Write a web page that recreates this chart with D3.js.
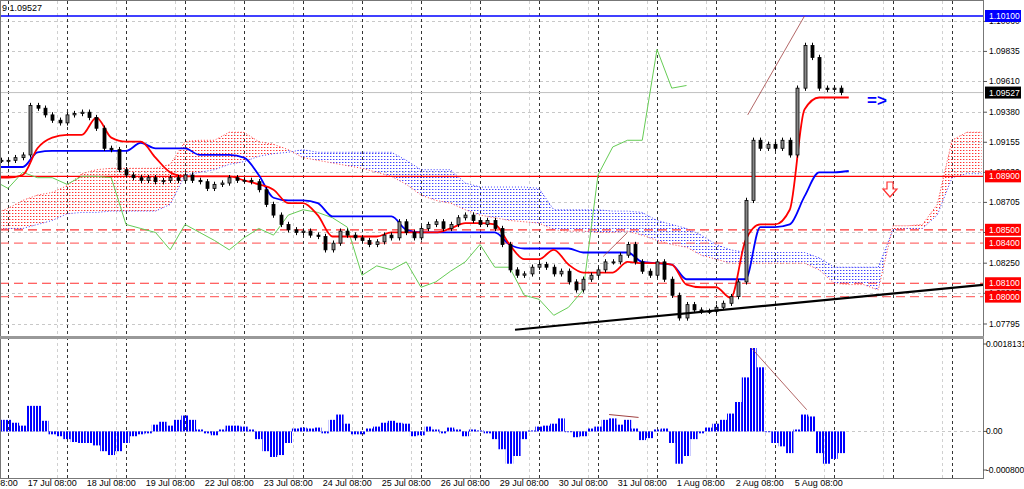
<!DOCTYPE html>
<html>
<head>
<meta charset="utf-8">
<script src="https://cdn.jsdelivr.net/npm/d3@7"></script>
<style>
  body { margin: 0; background: #fff; }
  svg { display: block; font-family: "Liberation Sans", Arial, sans-serif; }
</style>
</head>
<body>
<div id="chart"></div>
<script>
// 3-hour bars, index 0 = 17 Jul 00:00, first bar index -1
var closes = [
  1.0902,1.0902,1.0904,1.0906,1.0943,1.0941,1.0936,1.0932,1.0930,1.0936,
  1.0937,1.0938,1.0934,1.0926,1.0911,1.0910,1.0895,1.0891,1.0889,1.0887,
  1.0889,1.0886,1.0887,1.0889,1.0887,1.0891,1.0887,1.0886,1.0881,1.0884,
  1.0885,1.0889,1.0887,1.0887,1.0886,1.0880,1.0869,1.0861,1.0854,1.0850,
  1.0848,1.0849,1.0846,1.0845,1.0835,1.0840,1.0849,1.0846,1.0844,1.0842,
  1.0839,1.0841,1.0846,1.0844,1.0856,1.0848,1.0844,1.0851,1.0854,1.0856,
  1.0851,1.0854,1.0859,1.0861,1.0857,1.0854,1.0857,1.0851,1.0839,1.0820,
  1.0816,1.0817,1.0822,1.0824,1.0822,1.0817,1.0819,1.0811,1.0805,1.0813,
  1.0816,1.0820,1.0826,1.0826,1.0831,1.0839,1.0826,1.0819,1.0816,1.0826,
  1.0813,1.0801,1.0784,1.0794,1.0790,1.0789,1.0789,1.0792,1.0795,1.0800,
  1.0811,1.0872,1.0917,1.0911,1.0914,1.0911,1.0917,1.0906,1.0956,1.0988,
  1.0979,1.0956,1.0955,1.0956,1.09527
];
// Ichimoku lines, sampled every 2 bars from index -2
var tenkan = [
  1.0889,1.0889,1.0891,1.0911,1.0919,1.0921,1.0921,1.0934,1.0919,1.0916,
  1.0916,1.0904,1.0893,1.0890,1.0890,1.0890,1.0890,1.0887,1.0884,1.0880,
  1.0870,1.0870,1.0861,1.0845,1.0845,1.0845,1.0845,1.0848,1.0848,1.0848,
  1.0848,1.0851,1.0855,1.0855,1.0854,1.0839,1.0828,1.0828,1.0835,1.0824,
  1.0818,1.0818,1.0818,1.0826,1.0825,1.0825,1.0824,1.0809,1.0807,1.0807,
  1.0799,1.0842,1.0854,1.0854,1.0865,1.0940,1.0949,1.0949,1.0949
];
var kijun = [
  1.0897,1.0897,1.0897,1.0908,1.0909,1.0909,1.0909,1.0909,1.0909,1.0909,
  1.0915,1.0911,1.0911,1.0911,1.0906,1.0906,1.0906,1.0904,1.0891,1.0874,
  1.0872,1.0872,1.0870,1.0860,1.0860,1.0860,1.0860,1.0860,1.0850,1.0848,
  1.0848,1.0848,1.0848,1.0848,1.0848,1.0839,1.0836,1.0836,1.0836,1.0836,
  1.0833,1.0833,1.0833,1.0833,1.0826,1.0825,1.0824,1.0813,1.0813,1.0813,
  1.0813,1.0813,1.0852,1.0852,1.0854,1.0875,1.0893,1.0893,1.0894
];
var spanA = [
  1.0862,1.0866,1.0872,1.0876,1.0878,1.0883,1.0892,1.0895,1.0896,1.0896,
  1.0896,1.0896,1.0899,1.0916,1.0917,1.0917,1.0923,1.0923,1.0916,1.0914,
  1.0910,1.0904,1.0902,1.0900,1.0898,1.0896,1.0893,1.0890,1.0884,1.0876,
  1.0872,1.0870,1.0865,1.0861,1.0859,1.0857,1.0856,1.0855,1.0850,1.0849,
  1.0849,1.0848,1.0848,1.0849,1.0846,1.0842,1.0839,1.0837,1.0831,1.0828,
  1.0825,1.0825,1.0825,1.0825,1.0825,1.0825,1.0820,1.0810,1.0809,1.0809,
  1.0805,1.0853,1.0853,1.0854,1.0869,1.0917,1.0923,1.0923
];
var spanB = [
  1.0849,1.0851,1.0851,1.0854,1.0857,1.0862,1.0863,1.0863,1.0864,1.0864,
  1.0864,1.0864,1.0869,1.0891,1.0893,1.0895,1.0899,1.0901,1.0905,1.0907,
  1.0908,1.0910,1.0908,1.0908,1.0908,1.0908,1.0908,1.0908,1.0902,1.0895,
  1.0895,1.0895,1.0885,1.0882,1.0882,1.0882,1.0882,1.0881,1.0865,1.0865,
  1.0865,1.0865,1.0864,1.0864,1.0863,1.0857,1.0854,1.0851,1.0846,1.0839,
  1.0835,1.0833,1.0833,1.0833,1.0833,1.0833,1.0829,1.0822,1.0822,1.0822,
  1.0822,1.0850,1.0851,1.0851,1.0861,1.0889,1.0892,1.0892
];
var chikou = [
  1.0887,1.0881,1.0893,1.0889,1.0889,1.0884,1.0890,1.0890,1.0889,1.0854,
  1.0851,1.0848,1.0835,1.0854,1.0848,1.0842,1.0835,1.0844,1.0851,1.0846,
  1.0861,1.0865,1.0863,1.0859,1.0852,1.0816,1.0823,1.0820,1.0826,1.0807,
  1.0811,1.0819,1.0826,1.0839,1.0822,1.0822,1.0801,1.0798,1.0786,1.0792,
  1.0805,1.0891,1.0912,1.0917,1.0917,1.0985,1.0956,1.0958
];
// oscillator, units of 0.0001
var osc = [
  2.4,2.4,1.8,1.2,5.3,5.3,2.2,-0.6,-1.0,-1.6,
  -2.2,-2.4,-2.4,-2.9,-4.1,-4.9,-4.1,-2.4,-1.0,-0.6,
  -0.4,1.4,2.0,1.2,2.4,3.3,2.4,0.4,-0.4,-0.8,
  0.4,1.2,1.2,1.0,0.4,-1.6,-4.1,-5.3,-4.9,-2.4,
  0.6,0.8,0.6,0.8,-0.4,2.4,3.5,1.6,-0.6,-0.6,
  0.6,1.0,1.8,2.2,1.8,1.6,-1.0,-0.8,1.0,0.4,
  -0.4,0.8,0.4,-1.0,0.4,0.2,-0.4,-1.6,-3.7,-6.7,
  -5.1,-1.6,0.2,1.0,1.2,1.6,2.7,0.0,-1.2,-1.0,
  0.6,1.0,2.4,2.7,1.4,2.4,0.6,-1.8,-1.4,0.4,
  0.6,-2.4,-6.7,-5.1,-1.6,-0.4,0.8,1.6,2.4,3.7,
  6.1,11.2,17.3,13.3,0.0,-2.4,-3.1,-4.5,0.4,3.5,
  3.1,-4.5,-6.7,-5.7,-4.5
];
var priceTicks = [1.10060, 1.09835, 1.09610, 1.09380, 1.09155, 1.08930, 1.08705, 1.08480, 1.08250, 1.08025, 1.07795];
var oscTicks = [18.131, 0, -8.003];
var oscTickLabels = ["0.0018131", "0.00", "-0.0008003"];
var dayLabels = ["16 Jul 08:00", "17 Jul 08:00", "18 Jul 08:00", "19 Jul 08:00", "22 Jul 08:00", "23 Jul 08:00", "24 Jul 08:00",
  "25 Jul 08:00", "26 Jul 08:00", "29 Jul 08:00", "30 Jul 08:00", "31 Jul 08:00", "1 Aug 08:00", "2 Aug 08:00", "5 Aug 08:00"];
var levels = [
  { price: 1.10100, color: "#0000ff", dash: null, box: "#0000ff" },
  { price: 1.08900, color: "#ff0000", dash: null, box: "#ff0000" },
  { price: 1.08500, color: "#ff3030", dash: "9,5", box: "#ff0000" },
  { price: 1.08400, color: "#ff7070", dash: "9,5", box: "#ff0000" },
  { price: 1.08100, color: "#ff3030", dash: "9,5", box: "#ff0000" },
  { price: 1.08000, color: "#ff7070", dash: "9,5", box: "#ff0000" }
];
var lastPrice = 1.09527;

var W = 1024, H = 489, plotR = 983;
var svg = d3.select("#chart").append("svg").attr("width", W).attr("height", H);

var x = d3.scaleLinear().domain([-1, 132]).range([0.625, 981.5]);
var y = d3.scaleLinear().domain([1.07795, 1.10100]).range([324, 16]);
var yo = d3.scaleLinear().domain([-8.003, 18.131]).range([470, 344]);

var defs = svg.append("defs");
function dots(id, color) {
  var p = defs.append("pattern").attr("id", id).attr("width", 3).attr("height", 3)
    .attr("patternUnits", "userSpaceOnUse");
  p.append("rect").attr("width", 1).attr("height", 1).attr("fill", color);
  p.append("rect").attr("x", 1).attr("width", 1).attr("height", 1).attr("fill", color).attr("opacity", 0.4);
}
dots("redDots", "#ff3030");
dots("blueDots", "#4040ff");
var stripes = defs.append("pattern").attr("id", "stripes").attr("width", 3).attr("height", 4)
  .attr("patternUnits", "userSpaceOnUse");
stripes.append("rect").attr("width", 2).attr("height", 4).attr("fill", "#0000ff");
defs.append("clipPath").attr("id", "mainClip").append("rect").attr("x", 0).attr("y", 1).attr("width", plotR).attr("height", 335);
defs.append("clipPath").attr("id", "oscClip").append("rect").attr("x", 0).attr("y", 340).attr("width", plotR).attr("height", 138);

// grid
var grid = svg.append("g");
priceTicks.forEach(function (p) {
  grid.append("line").attr("x1", 0).attr("x2", plotR).attr("y1", Math.round(y(p)) + 0.5).attr("y2", Math.round(y(p)) + 0.5)
    .attr("stroke", "#c8c8c8").attr("stroke-dasharray", "3,3");
});
grid.append("line").attr("x1", 0).attr("x2", plotR).attr("y1", Math.round(yo(0)) + 0.5).attr("y2", Math.round(yo(0)) + 0.5)
  .attr("stroke", "#c8c8c8").attr("stroke-dasharray", "3,3");
for (var d = -1; d < 17; d++) {
  var xd = Math.round(x(d * 8)) + 0.5;
  var xg = Math.round(x(d * 8 + 6.7)) + 0.5;
  if (xg > 0 && xg < plotR) grid.append("line").attr("x1", xg).attr("x2", xg).attr("y1", 1).attr("y2", 478)
    .attr("stroke", "#d0d0d0").attr("stroke-dasharray", "3,3");
  if (xd > 0 && xd < plotR) grid.append("line").attr("x1", xd).attr("x2", xd).attr("y1", 1).attr("y2", 478)
    .attr("stroke", "#333").attr("stroke-dasharray", "3,3");
}

var main = svg.append("g").attr("clip-path", "url(#mainClip)");

// cloud
var cx = function (i) { return x(-2 + 2 * i); };
for (var i = 0; i < spanA.length - 1; i++) {
  var up = (spanA[i] + spanA[i + 1]) >= (spanB[i] + spanB[i + 1]);
  main.append("path")
    .attr("d", "M" + cx(i) + "," + y(spanA[i]) + "L" + cx(i + 1) + "," + y(spanA[i + 1]) +
      "L" + cx(i + 1) + "," + y(spanB[i + 1]) + "L" + cx(i) + "," + y(spanB[i]) + "Z")
    .attr("fill", up ? "url(#redDots)" : "url(#blueDots)");
}
var lineA = d3.line().x(function (d, i) { return cx(i); }).y(function (d) { return y(d); });
main.append("path").attr("d", lineA(spanA)).attr("fill", "none").attr("stroke", "#ff4040").attr("stroke-dasharray", "1,2");
main.append("path").attr("d", lineA(spanB)).attr("fill", "none").attr("stroke", "#4040ff").attr("stroke-dasharray", "1,2");

// horizontal levels
levels.forEach(function (l) {
  main.append("line").attr("x1", 0).attr("x2", plotR).attr("y1", y(l.price)).attr("y2", y(l.price))
    .attr("stroke", l.color).attr("stroke-width", l.dash ? 1.2 : 1.4).attr("stroke-dasharray", l.dash);
});
main.append("line").attr("x1", 0).attr("x2", plotR).attr("y1", y(lastPrice)).attr("y2", y(lastPrice)).attr("stroke", "#c0c0c0");

// chikou
var chLine = d3.line().x(function (d, i) { return x(-2 + 2 * i); }).y(function (d) { return y(d); });
main.append("path").attr("d", chLine(chikou)).attr("fill", "none").attr("stroke", "#66cc55").attr("stroke-width", 1);

// tenkan / kijun
var stepLine = d3.line().x(function (d, i) { return x(-2 + 2 * i); }).y(function (d) { return y(d); }).curve(d3.curveMonotoneX);
main.append("path").attr("d", stepLine(kijun)).attr("fill", "none").attr("stroke", "#0000ff").attr("stroke-width", 1.8);
main.append("path").attr("d", stepLine(tenkan)).attr("fill", "none").attr("stroke", "#ff0000").attr("stroke-width", 1.8);

// candles
closes.forEach(function (c, k) {
  var i = k - 1, o = k > 0 ? closes[k - 1] : c;
  var hi = Math.max(o, c) + 0.0002, lo = Math.min(o, c) - 0.0002;
  var xx = Math.round(x(i)) + 0.5;
  main.append("line").attr("x1", xx).attr("x2", xx).attr("y1", y(hi)).attr("y2", y(lo)).attr("stroke", "#000");
  var top = y(Math.max(o, c)), h = Math.max(1, Math.abs(y(o) - y(c)));
  main.append("rect").attr("x", xx - 1.5).attr("y", top).attr("width", 3).attr("height", h)
    .attr("fill", c >= o ? "#888" : "#000").attr("stroke", "#000").attr("stroke-width", 0.8);
});

// trend lines
main.append("line").attr("x1", 515).attr("y1", y(1.07752)).attr("x2", plotR).attr("y2", y(1.08088))
  .attr("stroke", "#000").attr("stroke-width", 2.2);
main.append("line").attr("x1", x(100.3)).attr("y1", y(1.0936)).attr("x2", x(108)).attr("y2", y(1.1010))
  .attr("stroke", "#a04040").attr("stroke-width", 0.8);
main.append("line").attr("x1", x(80.7)).attr("y1", y(1.0830)).attr("x2", x(84)).attr("y2", y(1.0848))
  .attr("stroke", "#a04040").attr("stroke-width", 0.8);

// symbols
main.append("text").attr("x", 867).attr("y", 106).attr("fill", "#0000ff").attr("font-size", 17)
  .attr("font-weight", "bold").text("=>");
main.append("path").attr("d", "M887,182h6v7h4l-7,8l-7,-8h4z").attr("fill", "#fff").attr("stroke", "#ff3030").attr("stroke-width", 1.2);

// oscillator
var og = svg.append("g").attr("clip-path", "url(#oscClip)");
osc.forEach(function (v, k) {
  var xx = x(k - 1);
  og.append("rect").attr("x", xx - 3.7).attr("width", 7.4)
    .attr("y", Math.min(yo(v), yo(0))).attr("height", Math.max(0.8, Math.abs(yo(v) - yo(0))))
    .attr("fill", "url(#stripes)");
});
og.append("line").attr("x1", x(100.8)).attr("y1", yo(17.3)).attr("x2", x(108.3)).attr("y2", yo(4.5))
  .attr("stroke", "#a04040").attr("stroke-width", 0.8);
og.append("line").attr("x1", x(81.5)).attr("y1", yo(3.5)).attr("x2", x(85.5)).attr("y2", yo(2.9))
  .attr("stroke", "#a04040").attr("stroke-width", 1);

// frame
svg.append("rect").attr("x", 0.5).attr("y", 0.5).attr("width", plotR).attr("height", 478).attr("fill", "none").attr("stroke", "#777");
svg.append("rect").attr("x", 0).attr("y", 336).attr("width", plotR + 1).attr("height", 3).attr("fill", "#999");

// right axis
var ax = svg.append("g").attr("font-size", 8.5).attr("fill", "#000");
priceTicks.forEach(function (p) {
  ax.append("line").attr("x1", plotR).attr("x2", plotR + 4).attr("y1", y(p)).attr("y2", y(p)).attr("stroke", "#555");
  ax.append("text").attr("x", 989).attr("y", y(p) + 3).text(p.toFixed(5));
});
oscTicks.forEach(function (v, j) {
  ax.append("line").attr("x1", plotR).attr("x2", plotR + 4).attr("y1", yo(v)).attr("y2", yo(v)).attr("stroke", "#555");
  ax.append("text").attr("x", 986).attr("y", yo(v) + 3).text(oscTickLabels[j]);
});
function box(p, bg) {
  ax.append("rect").attr("x", plotR + 2).attr("y", y(p) - 6).attr("width", 36).attr("height", 12).attr("fill", bg);
  ax.append("text").attr("x", 989).attr("y", y(p) + 3).attr("fill", "#fff").text(p.toFixed(5));
}
levels.forEach(function (l) { box(l.price, l.box); });
box(lastPrice, "#000");

// time axis
dayLabels.forEach(function (t, j) {
  var xx = x((j - 1) * 8 + 2.67);
  svg.append("text").attr("x", xx).attr("y", 486).attr("font-size", 9).text(t);
});
svg.append("text").attr("x", 2).attr("y", 11).attr("font-size", 9).text("9 1.09527");
</script>
</body>
</html>
